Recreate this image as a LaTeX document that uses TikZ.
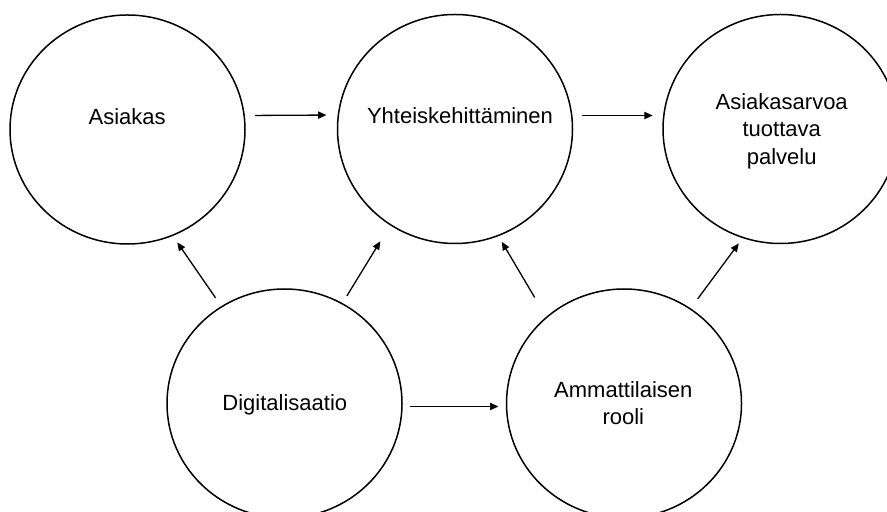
\documentclass[tikz,border=0pt]{standalone}
\usepackage{fontspec}
\setmainfont{Liberation Sans}
\usetikzlibrary{shapes.geometric,arrows.meta}

\tikzset{
  ympyra/.style={draw, ellipse, line width=0.75pt, minimum width=117.5pt, minimum height=114.5pt, outer sep=0pt},
  teksti/.style={font=\fontsize{11}{13.7}\selectfont, align=center, anchor=base, inner sep=0pt},
  nuoli/.style={line width=0.65pt, -{Triangle[length=4.2pt,width=3.6pt]}}
}

\begin{document}
\begin{tikzpicture}[x=0.5pt,y=-0.5pt]
        \clip (0,0) rectangle (887,512);

        % Ympyrät
        \node[ympyra] (asiakas) at (127.5,129.5) {};
        \node[ympyra] (yhteis) at (455,129) {};
        \node[ympyra] (arvo) at (780.5,129) {};
        \node[ympyra] (digi) at (284.5,403.5) {};
        \node[ympyra] (amm) at (624,403.5) {};

        % Tekstit (base = viimeisen rivin perusviiva)
        \node[teksti] (tAsiakas) at (127.2,124.3) {Asiakas};
        \node[teksti] (tYhteis) at (460,124) {Yhteiskehittäminen};
        \node[teksti] (tArvo) at (781.7,164.3) {Asiakasarvoa\\tuottava\\palvelu};
        \node[teksti] (tDigi) at (284.8,410) {Digitalisaatio};
        \node[teksti] (tAmm) at (623.3,424.7) {Ammattilaisen\\rooli};

        % Vaakanuolet
        \draw[nuoli, shorten <=5pt, shorten >=5.5pt] ([yshift=7pt]asiakas.east) -- ([yshift=7pt]yhteis.west);
        \draw[nuoli, shorten <=4.6pt, shorten >=5.15pt] ([yshift=6.75pt]yhteis.east) -- ([yshift=6.75pt]arvo.west);
        \draw[nuoli, shorten <=4pt, shorten >=4pt] ([yshift=-1.5pt]digi.east) -- ([yshift=-1.5pt]amm.west);

        % Vinot nuolet
        \draw[nuoli, shorten <=5.3pt, shorten >=4.3pt] (digi.123.7) -- (asiakas.-67.3);
        \draw[nuoli, shorten <=4.55pt, shorten >=9.7pt] (digi.60.4) -- (yhteis.-124.8);
        \draw[nuoli, shorten <=11.6pt, shorten >=3.65pt] (amm.132.7) -- (yhteis.-68.3);
        \draw[nuoli, shorten <=6.3pt, shorten >=3.65pt] (amm.55.8) -- (arvo.-109.7);
\end{tikzpicture}
\end{document}
